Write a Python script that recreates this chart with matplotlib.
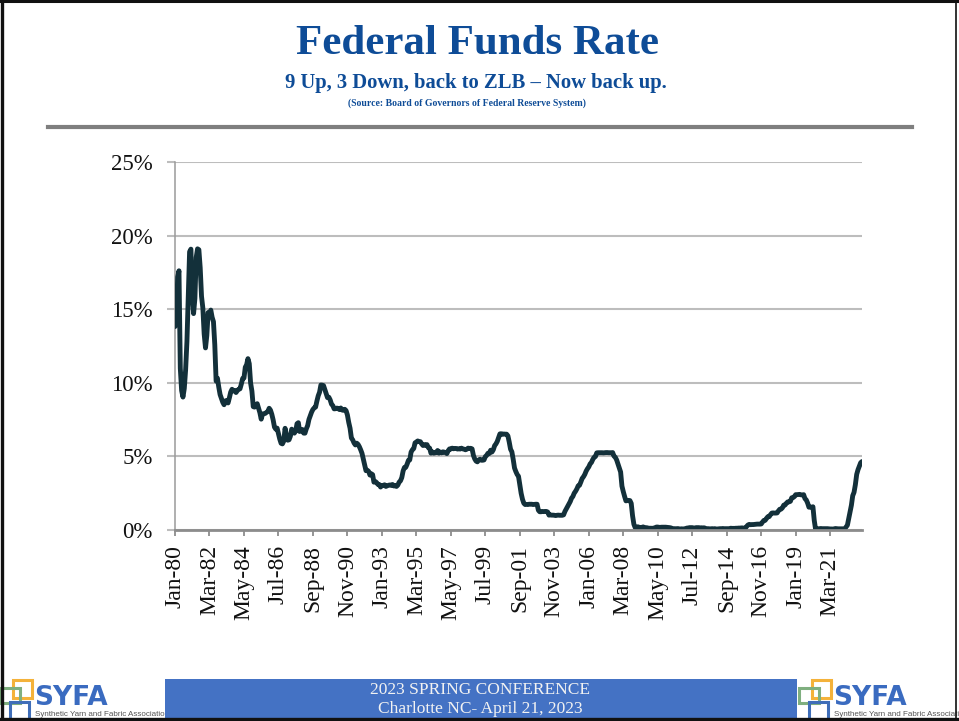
import numpy as np
import matplotlib
matplotlib.use("Agg")
import matplotlib.pyplot as plt
from matplotlib.patches import Rectangle
from matplotlib.lines import Line2D

plt.rcParams['font.family'] = 'Liberation Serif'

# effective federal funds rate, monthly average (%), Jan 1980 - Mar 2023
rates_1980s = [
    13.82, 14.13, 17.19, 17.61, 10.98, 9.47, 9.03, 9.61, 10.87, 12.81, 15.85, 18.90,
    19.08, 15.93, 14.70, 15.72, 18.52, 19.10, 19.04, 17.82, 15.87, 15.08, 13.31, 12.37,
    13.22, 14.78, 14.68, 14.94, 14.45, 14.15, 12.59, 10.12, 10.31, 9.71, 9.20, 8.95,
    8.68, 8.51, 8.77, 8.80, 8.63, 8.98, 9.37, 9.56, 9.45, 9.48, 9.34, 9.47,
    9.56, 9.59, 9.91, 10.29, 10.32, 11.06, 11.23, 11.64, 11.30, 9.99, 9.43, 8.38,
    8.35, 8.50, 8.58, 8.27, 7.97, 7.53, 7.88, 7.90, 7.92, 7.99, 8.05, 8.27,
    8.14, 7.86, 7.48, 6.99, 6.85, 6.92, 6.56, 6.17, 5.89, 5.85, 6.04, 6.91,
    6.43, 6.10, 6.13, 6.37, 6.85, 6.73, 6.58, 6.73, 7.22, 7.29, 6.69, 6.77,
    6.83, 6.58, 6.58, 6.87, 7.09, 7.51, 7.75, 8.01, 8.19, 8.30, 8.35, 8.76,
    9.12, 9.36, 9.85, 9.84, 9.81, 9.53, 9.24, 8.99, 9.02, 8.84, 8.55, 8.45,
]
rates_1990s = [
    8.23, 8.24, 8.28, 8.26, 8.18, 8.29, 8.15, 8.13, 8.20, 8.11, 7.81, 7.31,
    6.91, 6.25, 6.12, 5.91, 5.78, 5.90, 5.82, 5.66, 5.45, 5.21, 4.81, 4.43,
    4.03, 4.06, 3.98, 3.73, 3.82, 3.76, 3.25, 3.30, 3.22, 3.10, 3.09, 2.92,
    3.02, 3.03, 3.07, 2.96, 3.00, 3.04, 3.06, 3.03, 3.09, 2.99, 3.02, 2.96,
    3.05, 3.25, 3.34, 3.56, 4.01, 4.25, 4.26, 4.47, 4.73, 4.76, 5.29, 5.45,
    5.53, 5.92, 5.98, 6.05, 6.01, 6.00, 5.85, 5.74, 5.80, 5.76, 5.80, 5.60,
    5.56, 5.22, 5.31, 5.22, 5.24, 5.27, 5.40, 5.22, 5.30, 5.24, 5.31, 5.29,
    5.25, 5.19, 5.39, 5.51, 5.50, 5.56, 5.52, 5.54, 5.54, 5.50, 5.52, 5.50,
    5.56, 5.51, 5.49, 5.45, 5.49, 5.56, 5.54, 5.55, 5.51, 5.07, 4.83, 4.68,
    4.63, 4.76, 4.81, 4.74, 4.74, 4.76, 4.99, 5.07, 5.22, 5.20, 5.42, 5.30,
]
rates_2000s = [
    5.45, 5.73, 5.85, 6.02, 6.27, 6.53, 6.54, 6.50, 6.52, 6.51, 6.51, 6.40,
    5.98, 5.49, 5.31, 4.80, 4.21, 3.97, 3.77, 3.65, 3.07, 2.49, 2.09, 1.82,
    1.73, 1.74, 1.73, 1.75, 1.75, 1.75, 1.73, 1.74, 1.75, 1.75, 1.34, 1.24,
    1.24, 1.26, 1.25, 1.26, 1.26, 1.22, 1.01, 1.03, 1.01, 1.01, 1.00, 0.98,
    1.00, 1.01, 1.00, 1.00, 1.00, 1.03, 1.26, 1.43, 1.61, 1.76, 1.93, 2.16,
    2.28, 2.50, 2.63, 2.79, 3.00, 3.04, 3.26, 3.50, 3.62, 3.78, 4.00, 4.16,
    4.29, 4.49, 4.59, 4.79, 4.94, 4.99, 5.24, 5.25, 5.25, 5.25, 5.25, 5.24,
    5.25, 5.26, 5.26, 5.25, 5.25, 5.25, 5.26, 5.02, 4.94, 4.76, 4.49, 4.24,
    3.94, 2.98, 2.61, 2.28, 1.98, 2.00, 2.01, 2.00, 1.81, 0.97, 0.39, 0.16,
    0.15, 0.22, 0.18, 0.15, 0.18, 0.21, 0.16, 0.16, 0.15, 0.12, 0.12, 0.12,
]
rates_2010s = [
    0.11, 0.13, 0.16, 0.20, 0.20, 0.18, 0.18, 0.19, 0.19, 0.19, 0.19, 0.18,
    0.17, 0.16, 0.14, 0.10, 0.09, 0.09, 0.07, 0.10, 0.08, 0.07, 0.08, 0.07,
    0.08, 0.10, 0.13, 0.14, 0.16, 0.16, 0.16, 0.13, 0.14, 0.16, 0.16, 0.16,
    0.14, 0.15, 0.14, 0.15, 0.11, 0.09, 0.09, 0.08, 0.08, 0.09, 0.08, 0.09,
    0.07, 0.07, 0.08, 0.09, 0.09, 0.10, 0.09, 0.09, 0.09, 0.09, 0.09, 0.12,
    0.11, 0.11, 0.11, 0.12, 0.12, 0.13, 0.13, 0.14, 0.14, 0.12, 0.12, 0.24,
    0.34, 0.38, 0.36, 0.37, 0.37, 0.38, 0.39, 0.40, 0.40, 0.40, 0.41, 0.54,
    0.65, 0.66, 0.79, 0.90, 0.91, 1.04, 1.15, 1.16, 1.15, 1.15, 1.16, 1.30,
    1.41, 1.42, 1.51, 1.69, 1.70, 1.82, 1.91, 1.91, 1.95, 2.19, 2.20, 2.27,
    2.40, 2.40, 2.41, 2.42, 2.39, 2.38, 2.40, 2.13, 2.04, 1.83, 1.55, 1.55,
]
rates_2020s = [
    1.55, 1.58, 0.65, 0.05, 0.05, 0.08, 0.09, 0.10, 0.09, 0.09, 0.09, 0.09,
    0.09, 0.08, 0.07, 0.07, 0.06, 0.08, 0.10, 0.09, 0.08, 0.08, 0.08, 0.08,
    0.08, 0.08, 0.20, 0.33, 0.77, 1.21, 1.68, 2.33, 2.56, 3.08, 3.78, 4.10,
    4.33, 4.57, 4.65,
]

# category labels, one every 26 months starting Jan-80
tick_labels = ["Jan-80", "Mar-82", "May-84", "Jul-86", "Sep-88", "Nov-90",
               "Jan-93", "Mar-95", "May-97", "Jul-99", "Sep-01", "Nov-03",
               "Jan-06", "Mar-08", "May-10", "Jul-12", "Sep-14", "Nov-16",
               "Jan-19", "Mar-21"]
tick_step = 26
y_ticks = [0, 5, 10, 15, 20, 25]

rates = rates_1980s + rates_1990s + rates_2000s + rates_2010s + rates_2020s
x = np.arange(len(rates))

W, H = 959, 721
fig = plt.figure(figsize=(W / 100, H / 100), dpi=100)
fig.patch.set_facecolor('white')


def fx(px):
    return px / W


def fy(py):
    return 1 - py / H


# main chart
ax = fig.add_axes([fx(175), fy(530), fx(862) - fx(175), fy(162) - fy(530)])
ax.plot(x, rates, color='#13303A', lw=3.5, solid_joinstyle='round',
        solid_capstyle='round', zorder=3)
ax.set_xlim(0, len(rates) - 1)
ax.set_ylim(0, 25)

ax.set_yticks(y_ticks)
ax.set_yticklabels([f"{v}%" for v in y_ticks])
ax.set_xticks(np.arange(len(tick_labels)) * tick_step)
ax.set_xticklabels(tick_labels, rotation=90)

ax.yaxis.grid(True, color='#BDBDBD', lw=1.5)
ax.set_axisbelow(True)
for side in ['top', 'right']:
    ax.spines[side].set_visible(False)
ax.spines['left'].set_color('#9A9A9A')
ax.spines['left'].set_linewidth(1.1)
ax.spines['bottom'].set_color('#8C8C8C')
ax.spines['bottom'].set_linewidth(2)
ax.spines['bottom'].set_zorder(4)

ax.tick_params(axis='y', length=5.5, width=1.5, color='#BDBDBD', pad=10.5,
               labelsize=16.5, labelcolor='#111111')
ax.tick_params(axis='x', length=4, width=1.3, color='#8C8C8C', pad=7,
               labelsize=17, labelcolor='#111111')

# headings
blue = '#0E4C97'
fig.text(fx(477), fy(44), "Federal Funds Rate", ha='center', va='center',
         fontsize=31, fontweight='bold', color=blue)
fig.text(fx(476), fy(83), "9 Up, 3 Down, back to ZLB \u2013 Now back up.",
         ha='center', va='center', fontsize=14.9, fontweight='bold', color=blue)
fig.text(fx(467), fy(103), "(Source: Board of Governors of Federal Reserve System)",
         ha='center', va='center', fontsize=7, fontweight='bold', color=blue)
fig.add_artist(Line2D([fx(48), fx(912)], [fy(127), fy(127)], color='#7F7F7F',
                      lw=3, transform=fig.transFigure))


# association logo
def draw_logo(x0):
    boxes = [(13, 680, 19, 18, '#F4B23A'), (0, 688, 20, 15, '#7FAF7F'),
             (10, 702, 19, 22, '#3F6EB8')]
    for bx, by, bw, bh, col in boxes:
        fig.add_artist(Rectangle((fx(x0 + bx), fy(by + bh)), bw / W, bh / H,
                                 fill=False, edgecolor=col, lw=2.2,
                                 transform=fig.transFigure, zorder=5))
    fig.text(fx(x0 + 34), fy(698), "SYFA", ha='left', va='center',
             fontsize=19, fontweight='heavy', color='#3A6BC0',
             family='DejaVu Sans', zorder=5)
    fig.text(fx(x0 + 35), fy(714), "Synthetic Yarn and Fabric Association",
             ha='left', va='center', fontsize=5.8, color='#555555',
             family='Liberation Sans', zorder=5)


draw_logo(0)
draw_logo(799)

# conference banner
fig.add_artist(Rectangle((fx(165), fy(721)), (797 - 165) / W, 42 / H,
                         facecolor='#4472C4', edgecolor='none',
                         transform=fig.transFigure, zorder=6))
fig.text(fx(480), fy(690), "2023 SPRING CONFERENCE", ha='center', va='center',
         fontsize=12.5, color='#F2F2F2', zorder=7)
fig.text(fx(480), fy(709), "Charlotte NC- April 21, 2023", ha='center',
         va='center', fontsize=12.5, color='#F2F2F2', zorder=7)

# slide frame
frame = [([0, 1], [fy(1), fy(1)], 2.2), ([fx(1.5), fx(1.5)], [0, 1], 2.4),
         ([0, 1], [fy(719), fy(719)], 2.4), ([fx(956), fx(956)], [0, 1], 1.2)]
for xs, ys, w in frame:
    fig.add_artist(Line2D(xs, ys, color='#111111', lw=w,
                          transform=fig.transFigure, zorder=8))

fig.savefig('out.png', dpi=100)
